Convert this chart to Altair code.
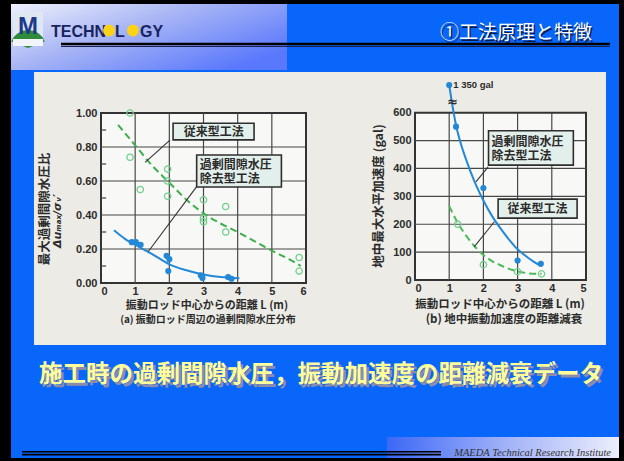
import altair as alt
import pandas as pd

# ---------------- panel (a): excess pore-water pressure ratio vs. distance ----------------
a_conv_x = [0.85, 0.85, 1.15, 1.95, 1.95, 1.95, 3.0, 3.0, 3.0, 3.65, 3.65, 5.8, 5.8]
a_conv_y = [1.00, 0.74, 0.55, 0.67, 0.60, 0.51, 0.49, 0.38, 0.36, 0.45, 0.30, 0.15, 0.07]
a_conv_curve_x = [0.5, 1.0, 1.5, 2.0, 2.5, 3.0, 3.5, 4.0, 4.5, 5.0, 5.5, 5.85]
a_conv_curve_y = [0.93, 0.81, 0.69, 0.59, 0.49, 0.41, 0.35, 0.30, 0.245, 0.19, 0.14, 0.10]
a_new_x = [0.9, 1.02, 1.16, 1.92, 2.0, 1.97, 2.92, 2.97, 3.72, 3.82]
a_new_y = [0.24, 0.24, 0.225, 0.16, 0.14, 0.07, 0.045, 0.03, 0.035, 0.025]
a_new_curve_x = [0.38, 0.7, 1.0, 1.5, 2.0, 2.5, 3.0, 3.5, 4.05]
a_new_curve_y = [0.31, 0.26, 0.225, 0.17, 0.11, 0.075, 0.05, 0.035, 0.028]
a_x_ticks = [0, 1, 2, 3, 4, 5, 6]
a_y_ticks = [0.0, 0.2, 0.4, 0.6, 0.8, 1.0]
a_y_minor = [0.1, 0.3, 0.5, 0.7, 0.9]

# ---------------- panel (b): horizontal ground acceleration vs. distance ----------------
b_new_x = [1.0, 1.2, 2.0, 3.0, 3.68]
b_new_y = [1350, 550, 330, 70, 58]
b_new_curve_x = [1.0, 1.13, 1.2, 1.35, 1.5, 1.75, 2.0, 2.25, 2.5, 2.75, 3.0, 3.25, 3.5, 3.7]
b_new_curve_y = [1350, 600, 555, 485, 430, 350, 285, 230, 185, 145, 110, 85, 63, 50]
b_conv_x = [1.25, 2.0, 3.0, 3.7]
b_conv_y = [200, 55, 30, 22]
b_conv_curve_x = [1.0, 1.25, 1.5, 1.75, 2.0, 2.25, 2.5, 2.75, 3.0, 3.25, 3.5, 3.7]
b_conv_curve_y = [265, 205, 158, 120, 90, 68, 53, 40, 31, 25, 22, 22]
b_x_ticks = [0, 1, 2, 3, 4, 5]
b_y_ticks = [0, 100, 200, 300, 400, 500, 600]

# ---------------- text ----------------
slide_title = "①工法原理と特徴"
caption = "施工時の過剰間隙水圧，振動加速度の距離減衰データ"
footer = "MAEDA  Technical Research Institute"
lbl_conv = "従来型工法"
lbl_new = ["過剰間隙水圧", "除去型工法"]
a_ytitle = "最大過剰間隙水圧比"
a_ysub = "Δuₘₐₓ/σᵥ′"
xtitle = "振動ロッド中心からの距離 L (m)"
a_caption = "(a)  振動ロッド周辺の過剰間隙水圧分布"
b_ytitle = "地中最大水平加速度 (gal)"
b_caption = "(b)  地中振動加速度の距離減衰"
b_peak_label = "1 350 gal"

JP = "Noto Sans CJK JP"
INK = "#2b2b2b"
BLUE = "#2388d6"
GREEN = "#3fae4f"
GREEN_PT = "#6fcf8c"

W, H = 624, 461

# panel placement inside the slide (pixels)
A_LEFT, A_RIGHT, A_BOTTOM, A_TOP = 101, 306, 283, 113
B_LEFT, B_RIGHT, B_BOTTOM, B_TOP = 415, 586, 280, 112.7

XA = alt.Scale(domain=[0, 6], range=[A_LEFT, A_RIGHT], nice=False, zero=False)
YA = alt.Scale(domain=[0, 1], range=[A_BOTTOM, A_TOP], nice=False, zero=False)
XB = alt.Scale(domain=[0, 5], range=[B_LEFT, B_RIGHT], nice=False, zero=False)
# broken axis above 600 gal
YB = alt.Scale(domain=[0, 600, 1350], range=[B_BOTTOM, B_TOP, 85], nice=False, zero=False)

one = pd.DataFrame({"k": [0]})


def df(**cols):
    return pd.DataFrame(cols)


def prect(x0, y0, x1, y1, **kw):
    return alt.Chart(one).mark_rect(**kw).encode(
        x=alt.value(x0), x2=alt.value(x1), y=alt.value(y0), y2=alt.value(y1))


def ptext(txt, x, y, **kw):
    return alt.Chart(one).mark_text(text=txt, **kw).encode(x=alt.value(x), y=alt.value(y))


def prule(x0, y0, x1, y1, **kw):
    return alt.Chart(one).mark_rule(**kw).encode(
        x=alt.value(x0), x2=alt.value(x1), y=alt.value(y0), y2=alt.value(y1))


def XQ(sx, field="x", axis=None):
    return alt.X(f"{field}:Q", scale=sx, axis=axis)


def YQ(sy, field="y", axis=None):
    return alt.Y(f"{field}:Q", scale=sy, axis=axis)


def segments(sx, sy, x0, y0, x1, y1, **kw):
    """Straight segments in a panel's data units, each drawn as a two-point line."""
    rows = []
    for i, (a, b, c, d) in enumerate(zip(x0, y0, x1, y1)):
        rows.append({"sid": i, "seq": 0, "sx": float(a), "sy": float(b)})
        rows.append({"sid": i, "seq": 1, "sx": float(c), "sy": float(d)})
    return alt.Chart(pd.DataFrame(rows)).mark_line(**kw).encode(
        x=XQ(sx, "sx"), y=YQ(sy, "sy"), detail="sid:N", order="seq:Q")


def grid_bars(sx, sy, xs, ys, xmax, ymax, half_x, half_y, x_stub=None, minor=()):
    """Grid lines as hairline bands around each tick value."""
    rx0, rx1, ry0, ry1 = [], [], [], []
    for t in xs:
        rx0.append(t - half_x); rx1.append(t + half_x); ry0.append(0.0); ry1.append(float(ymax))
    for v in ys:
        rx0.append(0.0); rx1.append(float(xmax)); ry0.append(v - half_y); ry1.append(v + half_y)
    for v in minor:
        rx0.append(0.0); rx1.append(x_stub); ry0.append(v - half_y); ry1.append(v + half_y)
    d = df(rx0=rx0, rx1=rx1, ry0=ry0, ry1=ry1)
    return alt.Chart(d).mark_rect(fill="#474747", opacity=1).encode(
        x=XQ(sx, "rx0"), x2="rx1", y=YQ(sy, "ry0"), y2="ry1")


layers = []

# ---------------- slide background ----------------
layers.append(prect(11, 4, 619, 458, fill="#0866fb"))
layers.append(prect(11, 4, 287, 70, fill=alt.Gradient(
    gradient="linear", x1=0, y1=0, x2=1, y2=0.7,
    stops=[alt.GradientStop(color="#eef0fb", offset=0),
           alt.GradientStop(color="#a9b6f5", offset=0.45),
           alt.GradientStop(color="#5a78fc", offset=1)])))
# header rule
layers.append(prule(61, 44, 610, 44, color="#000000", strokeWidth=2.5))
layers.append(prule(61, 46.5, 610, 46.5, color="#1a2050", strokeWidth=1))
# logo
layers.append(prect(13, 12, 43, 39, fill="#dfe7f3"))
layers.append(alt.Chart(one).mark_arc(color="#2f8a3c", radius=18, theta=5.08, theta2=7.48).encode(
    x=alt.value(28), y=alt.value(48)))
layers.append(ptext("M", 28, 27, font="Liberation Sans", fontWeight="bold", fontSize=24,
                    color="#1d3a8a", baseline="middle"))
layers.append(prect(13, 39, 43, 46, fill="#f2f4fb"))
logo_font = dict(font="Liberation Sans", fontWeight="bold", fontSize=16, color="#17245f",
                 baseline="alphabetic")
layers.append(ptext("TECHN", 51, 36.5, align="left", **logo_font))
layers.append(ptext("L", 120, 36.5, align="center", **logo_font))
layers.append(ptext("GY", 140, 36.5, align="left", **logo_font))
layers.append(alt.Chart(one).mark_point(filled=True, shape="circle", size=140, color="#ffd21a", opacity=1).encode(
    x=alt.value(109), y=alt.value(30.5)))
layers.append(alt.Chart(one).mark_point(filled=True, shape="circle", size=140, color="#ffd21a", opacity=1).encode(
    x=alt.value(133), y=alt.value(30.5)))
# slide title with shadow
title_font = dict(font=JP, fontSize=19, align="right", baseline="alphabetic")
layers.append(ptext(slide_title, 593.5, 40.5, color="#101c48", **title_font))
layers.append(ptext(slide_title, 592, 39, color="#ffffff", **title_font))

# figure sheet
layers.append(prect(34, 72, 606, 345, fill="#ecebe6"))

axis_common = dict(grid=False, domain=False, ticks=False, labelFont="Liberation Sans",
                   labelFontWeight="bold", labelFontSize=11, labelColor=INK, title=None, zindex=2)
frame_style = dict(stroke="#333333", strokeWidth=2)

# ---------------- panel (a) ----------------
a_frame = df(fx0=[0.0], fx1=[6.0], fy0=[0.0], fy1=[1.0])
# plot area carries the panel's axes
layers.append(alt.Chart(a_frame).mark_rect(fill="#f8f8f6", **frame_style).encode(
    x=XQ(XA, "fx0", axis=alt.Axis(orient="bottom", values=a_x_ticks, format="d", offset=-(H - A_BOTTOM),
                                  labelPadding=2, **axis_common)),
    x2="fx1",
    y=YQ(YA, "fy0", axis=alt.Axis(orient="left", values=a_y_ticks, format=".2f", offset=-A_LEFT,
                                  labelPadding=4, **axis_common)),
    y2="fy1"))
layers.append(grid_bars(XA, YA, a_x_ticks[1:-1], a_y_ticks[1:-1], 6, 1, 0.0175, 0.0036,
                        x_stub=0.15, minor=a_y_minor))

layers.append(alt.Chart(df(x=a_conv_curve_x, y=a_conv_curve_y)).mark_line(
    color=GREEN, strokeWidth=2, strokeDash=[7, 4], interpolate="monotone").encode(
    x=XQ(XA), y=YQ(YA)))
layers.append(alt.Chart(df(x=a_conv_x, y=a_conv_y)).mark_point(
    shape="circle", size=40, color=GREEN_PT, strokeWidth=1.3, filled=False, opacity=1).encode(
    x=XQ(XA), y=YQ(YA)))
layers.append(alt.Chart(df(x=a_new_curve_x, y=a_new_curve_y)).mark_line(
    color=BLUE, strokeWidth=2, interpolate="monotone").encode(x=XQ(XA), y=YQ(YA)))
layers.append(alt.Chart(df(x=a_new_x, y=a_new_y)).mark_point(
    shape="circle", size=38, color=BLUE, filled=True, opacity=1).encode(x=XQ(XA), y=YQ(YA)))

# annotation boxes (a)
box_style = dict(fill="#e3efea", stroke="#2e2e2e", strokeWidth=1.6)
lead_style = dict(color="#333333", strokeWidth=1.1)
layers.append(segments(XA, YA, [2.02, 2.80], [0.84, 0.567], [1.29, 1.38], [0.71, 0.184], **lead_style))
layers.append(alt.Chart(df(x0=[2.11, 2.80], y0=[0.842, 0.565], x1=[4.48, 5.28], y1=[0.94, 0.753])).mark_rect(
    **box_style).encode(x=XQ(XA, "x0"), x2="x1", y=YQ(YA, "y0"), y2="y1"))
box_text = dict(font=JP, fontWeight="bold", fontSize=12, color=INK, baseline="middle")
layers.append(alt.Chart(df(x=[3.30], y=[0.891])).mark_text(text=lbl_conv, align="center", **box_text).encode(
    x=XQ(XA), y=YQ(YA)))
layers.append(alt.Chart(df(x=[2.89], y=[0.696])).mark_text(
    text=lbl_new, align="left", lineHeight=14.5, **box_text).encode(x=XQ(XA), y=YQ(YA)))

# axis titles (a)
layers.append(ptext(a_ytitle, 45, 209, angle=270, font=JP, fontWeight="bold", fontSize=12.5,
                    color=INK, baseline="middle"))
layers.append(ptext(a_ysub, 58, 221, angle=270, font="DejaVu Sans", fontStyle="italic",
                    fontWeight="bold", fontSize=11, color=INK, baseline="middle"))
layers.append(ptext(xtitle, 207, 305.5, font=JP, fontWeight="bold", fontSize=11, color=INK,
                    baseline="middle"))
layers.append(ptext(a_caption, 208, 319.5, font=JP, fontWeight="bold", fontSize=10, color=INK,
                    baseline="middle"))

# ---------------- panel (b) ----------------
b_frame = df(fx0=[0.0], fx1=[5.0], fy0=[0.0], fy1=[600.0])
layers.append(alt.Chart(b_frame).mark_rect(fill="#f8f8f6", **frame_style).encode(
    x=XQ(XB, "fx0", axis=alt.Axis(orient="bottom", values=b_x_ticks, format="d", offset=-(H - B_BOTTOM),
                                  labelPadding=2, **axis_common)),
    x2="fx1",
    y=YQ(YB, "fy0", axis=alt.Axis(orient="left", values=b_y_ticks, format="d", offset=-B_LEFT,
                                  labelPadding=4, **axis_common)),
    y2="fy1"))
layers.append(grid_bars(XB, YB, b_x_ticks[1:-1], b_y_ticks[1:-1], 5, 600, 0.0175, 2.15))
layers.append(alt.Chart(df(x=b_conv_curve_x, y=b_conv_curve_y)).mark_line(
    color="#4cbb57", strokeWidth=2, strokeDash=[7, 4], interpolate="monotone").encode(
    x=XQ(XB), y=YQ(YB)))
layers.append(alt.Chart(df(x=b_conv_x, y=b_conv_y)).mark_point(
    shape="circle", size=40, color=GREEN_PT, strokeWidth=1.3, filled=False, opacity=1).encode(
    x=XQ(XB), y=YQ(YB)))
layers.append(alt.Chart(df(x=b_new_curve_x, y=b_new_curve_y)).mark_line(
    color=BLUE, strokeWidth=2, interpolate="monotone").encode(x=XQ(XB), y=YQ(YB)))
layers.append(alt.Chart(df(x=b_new_x, y=b_new_y)).mark_point(
    shape="circle", size=38, color=BLUE, filled=True, opacity=1).encode(x=XQ(XB), y=YQ(YB)))
# axis break mark and peak value
layers.append(alt.Chart(df(x=[1.1], y=[900])).mark_text(
    text="≈", font="DejaVu Sans", fontWeight="bold", fontSize=13, color=INK, baseline="middle").encode(
    x=XQ(XB), y=YQ(YB)))
layers.append(alt.Chart(df(x=[1.12], y=[b_new_y[0]])).mark_text(
    text=b_peak_label, align="left", font="Liberation Sans", fontWeight="bold", fontSize=9.5,
    color=INK, baseline="middle").encode(x=XQ(XB), y=YQ(YB)))

# annotation boxes (b)
layers.append(segments(XB, YB, [2.14, 2.32], [406, 209], [1.78, 1.73], [352, 119], **lead_style))
layers.append(alt.Chart(df(x0=[2.15, 2.43], y0=[412.0, 222.0], x1=[4.63, 4.74], y1=[535.0, 290.0])).mark_rect(
    **box_style).encode(x=XQ(XB, "x0"), x2="x1", y=YQ(YB, "y0"), y2="y1"))
layers.append(alt.Chart(df(x=[2.24], y=[496])).mark_text(
    text=lbl_new, align="left", lineHeight=14.5, **box_text).encode(x=XQ(XB), y=YQ(YB)))
layers.append(alt.Chart(df(x=[3.58], y=[256])).mark_text(text=lbl_conv, align="center", **box_text).encode(
    x=XQ(XB), y=YQ(YB)))

# axis titles (b)
layers.append(ptext(b_ytitle, 379, 196, angle=270, font=JP, fontWeight="bold", fontSize=12.5,
                    color=INK, baseline="middle"))
layers.append(ptext(xtitle, 500, 304.5, font=JP, fontWeight="bold", fontSize=11.5, color=INK,
                    baseline="middle"))
layers.append(ptext(b_caption, 504, 319.5, font=JP, fontWeight="bold", fontSize=11.5, color=INK,
                    baseline="middle"))

# ---------------- caption and footer ----------------
cap_font = dict(font=JP, fontWeight="bold", fontSize=23.5, baseline="middle", align="center")
layers.append(ptext(caption, 323.5, 377.5, color="#8c8caa", **cap_font))
layers.append(ptext(caption, 321, 375, color="#ffff9c", **cap_font))

layers.append(prect(387, 437, 619, 458, fill=alt.Gradient(
    gradient="linear", x1=0, y1=0, x2=1, y2=0,
    stops=[alt.GradientStop(color="#3c68f6", offset=0),
           alt.GradientStop(color="#9fb0f8", offset=0.5),
           alt.GradientStop(color="#eceefc", offset=1)])))
layers.append(prule(22, 451.8, 441, 451.8, color="#000000", strokeWidth=1.6))
layers.append(prule(22, 454.6, 441, 454.6, color="#000000", strokeWidth=1.6))
layers.append(ptext(footer, 611, 456, align="right", baseline="alphabetic",
                    font="Liberation Serif", fontStyle="italic", fontSize=10.5, color="#333333"))

chart = alt.layer(*layers).resolve_scale(x="independent", y="independent").properties(
    width=W, height=H, padding=0, background="#000000",
    autosize=alt.AutoSizeParams(type="none"),
).configure_view(stroke=None)

chart.save("out.html", embed_options={"renderer": "svg", "actions": False})
